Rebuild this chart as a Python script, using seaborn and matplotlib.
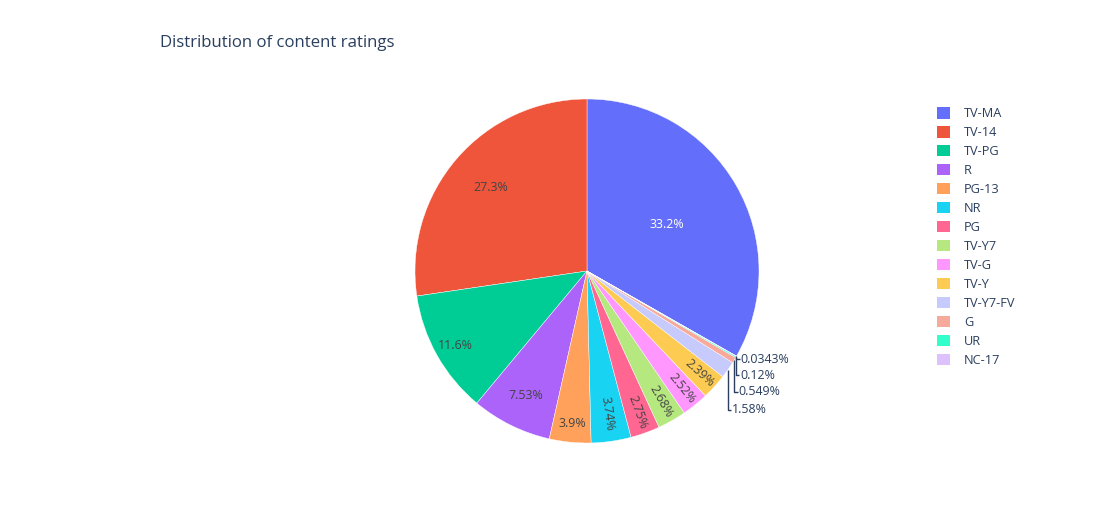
import numpy as np
import matplotlib
matplotlib.use("Agg")
import matplotlib.pyplot as plt
from matplotlib.patches import Patch
import seaborn as sns

# data (percent of titles)
ratings = ["TV-MA", "TV-14", "TV-PG", "R", "PG-13", "NR", "PG", "TV-Y7",
           "TV-G", "TV-Y", "TV-Y7-FV", "G", "UR", "NC-17"]
shares = [33.2, 27.3, 11.6, 7.53, 3.9, 3.74, 2.75, 2.68,
          2.52, 2.39, 1.58, 0.549, 0.12, 0.0343]

colors = ["#636EFA", "#EF553B", "#00CC96", "#AB63FA", "#FFA15A", "#19D3F3",
          "#FF6692", "#B6E880", "#FF97FF", "#FECB52", "#C6CAFD", "#F7A99C",
          "#33FFCA", "#DDC1FD"]

# where the inside labels sit (fraction of radius); None -> outside label
label_r = [0.54, 0.74, 0.88, 0.81, 0.89, 0.84, 0.87, 0.87, 0.88, 0.88,
           None, None, None, None]
radial = [False, False, False, False, False, True, True, True, True, True]
out_y = {10: -0.808, 11: -0.703, 12: -0.605, 13: -0.512}

sns.set_style("white")
plt.rcParams["font.family"] = ["Open Sans", "DejaVu Sans"]
txt_col = "#2a3f5f"

fig = plt.figure(figsize=(11.12, 5.22), dpi=100)
W, H = 1112, 522
cx, cy, R = 587, 271, 172
ax = fig.add_axes([(cx - R) / W, (H - cy - R) / H, 2 * R / W, 2 * R / H])

total = sum(shares)
start = 90 - 360 * shares[0] / total
wedges, _ = ax.pie(shares, colors=colors, startangle=start, counterclock=True,
                   radius=1, wedgeprops=dict(linewidth=0.3, edgecolor="white"))
ax.set_xlim(-1, 1)
ax.set_ylim(-1, 1)
ax.set_aspect("equal")
ax.axis("off")

for i, w in enumerate(wedges):
    mid = np.deg2rad((w.theta1 + w.theta2) / 2)
    label = "{:.3g}%".format(shares[i])
    if label_r[i] is not None:
        r = label_r[i]
        rot = 0
        if radial[i]:
            rot = np.rad2deg(mid) % 360
            if rot > 90 and rot < 270:
                rot -= 180
            elif rot >= 270:
                rot -= 360
        col = "white" if i == 0 else "#444444"
        ax.text(r * np.cos(mid), r * np.sin(mid), label, ha="center",
                va="center", rotation=rot, rotation_mode="anchor",
                fontsize=8.9, color=col)
    else:
        ex, ey = np.cos(mid), np.sin(mid)
        ly = out_y[i]
        lx = ex + 0.02
        ax.plot([ex, ex, lx], [ey, ly, ly], color=txt_col, lw=1.0,
                clip_on=False, solid_capstyle="butt")
        ax.text(lx + 0.003, ly, label, ha="left", va="center",
                fontsize=8.9, color=txt_col)

fig.text(160 / W, 1 - 43 / H, "Distribution of content ratings",
         fontsize=12.1, color=txt_col, ha="left", va="center")

handles = [Patch(facecolor=c, edgecolor="none") for c in colors]
fig.legend(handles, ratings, loc="upper left",
           bbox_to_anchor=(932 / W, 1 - 102 / H), frameon=False,
           fontsize=9.2, labelcolor=txt_col, handlelength=1.0,
           handleheight=1.0, handletextpad=1.1, labelspacing=0.46,
           borderaxespad=0)

fig.savefig("out.png", dpi=100)
